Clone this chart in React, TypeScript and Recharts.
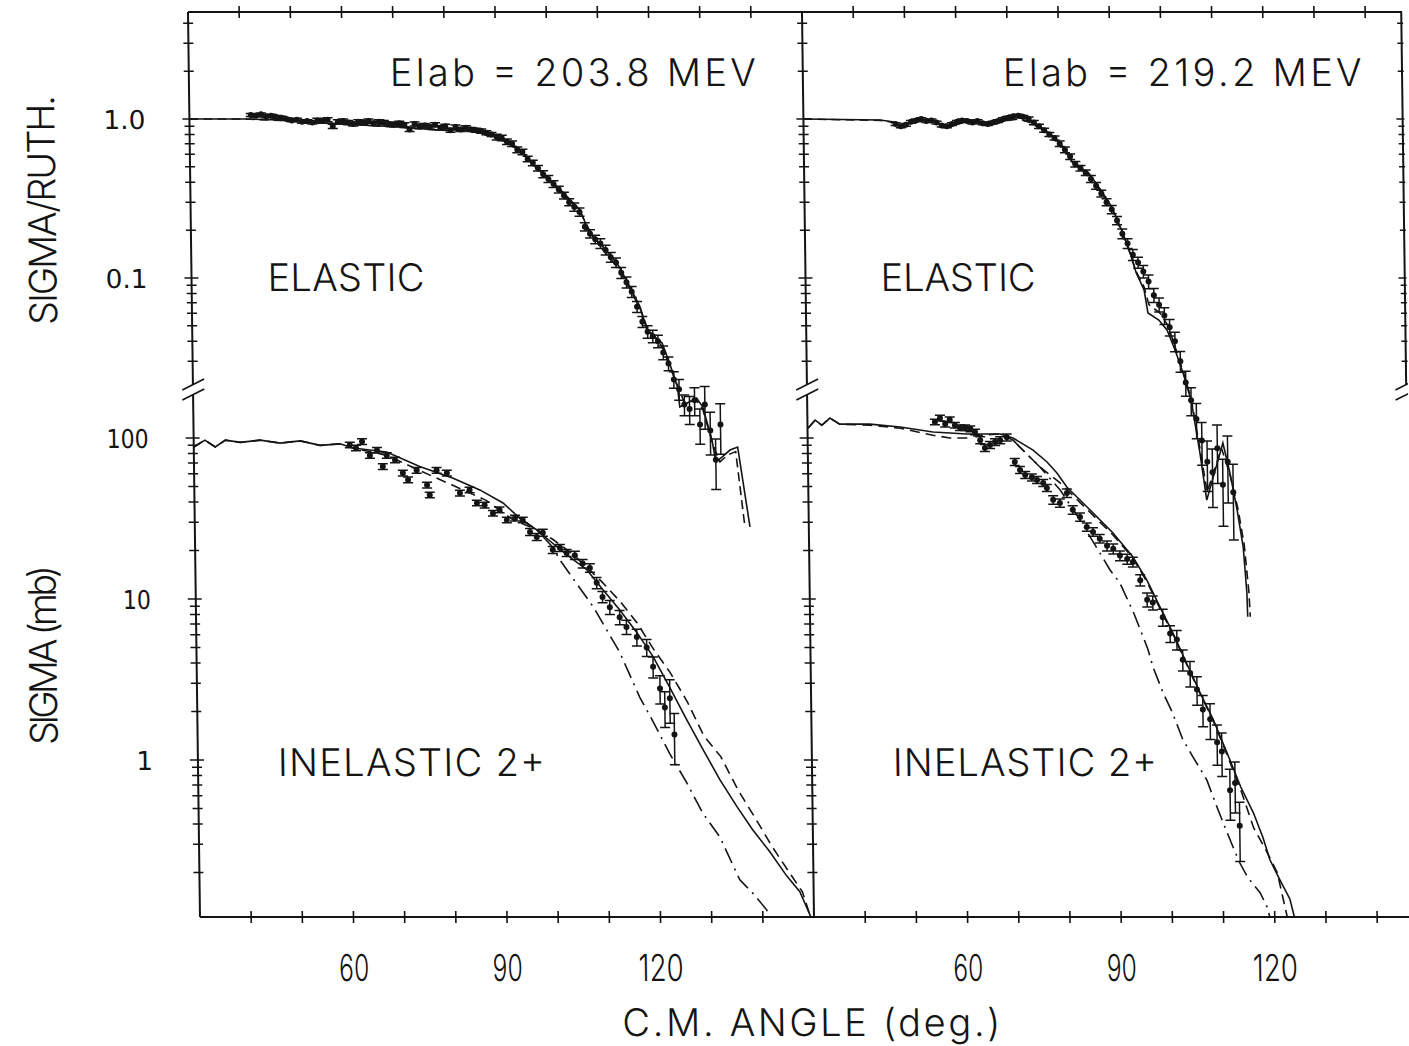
import React from 'react';
import { ComposedChart, Line, Scatter, ErrorBar, XAxis, YAxis, ReferenceLine } from 'recharts';

type P = [number, number];
type E = [number, number, number];

// ---------- Elab = 203.8 MEV ----------
// elastic, sigma/ruth : [angle, value, relative error]
const elastic203Data: E[] = [
  [42,1.06,0.02],[43,1.05,0.02],[44,1.07,0.02],[45,1.04,0.02],[46,1.05,0.02],[47,1.03,0.02],[48,1.02,0.02],
  [49,1.0,0.02],[50,0.98,0.02],[51,0.99,0.02],[52,0.96,0.02],[53,0.97,0.02],[54,0.95,0.02],[55,0.98,0.03],
  [56,0.97,0.03],[57,0.99,0.03],[58,0.9,0.03],[59,0.96,0.03],[60,0.97,0.03],[61,0.95,0.03],[62,0.93,0.03],
  [63,0.96,0.03],[64,0.95,0.03],[65,0.97,0.03],[66,0.94,0.03],[67,0.96,0.03],[68,0.95,0.03],[69,0.93,0.03],
  [70,0.92,0.03],[71,0.94,0.03],[72,0.92,0.03],[73,0.86,0.03],[74,0.93,0.03],[75,0.9,0.03],[76,0.91,0.03],
  [77,0.89,0.03],[78,0.92,0.03],[79,0.88,0.03],[80,0.9,0.03],[81,0.85,0.03],[82,0.89,0.03],[83,0.86,0.03],
  [84,0.88,0.03],[85,0.86,0.03],[86,0.85,0.03],[87,0.84,0.03],[88,0.82,0.03],[89,0.8,0.03],[90,0.77,0.04],
  [91,0.76,0.04],[92,0.72,0.04],[93,0.7,0.04],[94,0.64,0.04],[95,0.62,0.04],[96,0.56,0.04],[97,0.53,0.04],
  [98,0.49,0.04],[99,0.45,0.05],[100,0.42,0.05],[101,0.39,0.05],[102,0.36,0.05],[103,0.33,0.05],[104,0.3,0.05],
  [105,0.28,0.06],[106,0.26,0.06],[107,0.21,0.06],[108,0.19,0.06],[109,0.175,0.06],[110,0.165,0.07],
  [111,0.15,0.07],[112,0.135,0.07],[113,0.125,0.07],[114,0.108,0.08],[115,0.094,0.08],[116,0.082,0.08],
  [117,0.066,0.08],[118,0.053,0.08],[119,0.046,0.09],[120,0.043,0.09],[121,0.04,0.09],[122,0.034,0.1],
  [123,0.029,0.1],[124,0.023,0.12],[125,0.02,0.15],[126,0.016,0.15],[127,0.015,0.2],[128,0.017,0.2],
  [129,0.012,0.25],[130,0.016,0.3],[131,0.011,0.3],[132,0.0072,0.35],[133,0.012,0.35]
];
const elastic203Solid: P[] = [
  [30,1.0],[40.9,1.0],[47.7,0.986],[55.5,0.944],[63.3,0.917],[71.1,0.891],[78.9,0.853],[85.4,0.853],
  [88.7,0.793],[92.6,0.717],[95.1,0.611],[98.3,0.478],[102.8,0.347],[106.1,0.268],[107.9,0.192],[110.5,0.157],
  [113.2,0.124],[115.3,0.093],[117.6,0.0657],[118.9,0.0471],[121.8,0.039],[123.2,0.0292],[124.7,0.0206],
  [125.1,0.01545],[128.4,0.0176],[129.6,0.01545],[131.3,0.00957],[132.0,0.00697],[133.2,0.00748],
  [134.8,0.00828],[136.3,0.00865],[138.5,0.00272]
];
const elastic203Dashed: P[] = [
  [30,1.0],[40.9,1.0],[47.7,0.98],[55.5,0.95],[63.3,0.92],[71.1,0.885],[78.9,0.85],[85.4,0.84],[88.7,0.78],
  [92.6,0.7],[95.1,0.6],[98.3,0.47],[102.8,0.34],[106.1,0.26],[107.9,0.2],[110.5,0.15],[113.2,0.118],
  [115.3,0.09],[117.6,0.064],[118.9,0.049],[121.8,0.037],[123.2,0.028],[124.7,0.021],[126.0,0.0165],
  [128.4,0.017],[129.6,0.0148],[131.5,0.0089],[132.8,0.00697],[134.3,0.0077],[135.9,0.0081],[137.5,0.00275]
];
// inelastic 2+, sigma (mb)
const inelastic203Data: E[] = [
  [60.5,90.5,0.04],[61.7,86.7,0.04],[62.9,95,0.04],[64.4,78,0.04],[65.8,84,0.04],[66.9,66.5,0.04],
  [67.7,78,0.04],[69.3,73,0.04],[70.8,60.6,0.04],[71.8,55,0.04],[73.5,63,0.04],[75.5,51,0.04],[76.0,44.3,0.04],
  [77.4,63,0.04],[79.4,60.6,0.04],[81.9,45.5,0.04],[83.8,47.6,0.04],[85.2,39.5,0.04],[86.7,38.3,0.04],
  [88.3,34.1,0.04],[89.6,35.8,0.04],[91.0,31,0.04],[92.6,31.8,0.04],[94.1,31,0.04],[95.5,26.1,0.05],
  [96.8,24.3,0.05],[98.0,25.8,0.05],[99.9,20.2,0.05],[101.3,20.8,0.05],[102.6,19.3,0.05],[104.2,18.7,0.06],
  [105.7,16.6,0.06],[107.1,15.6,0.06],[108.4,12.6,0.08],[109.5,10.3,0.08],[110.9,8.9,0.1],[112.8,7.7,0.1],
  [114.1,6.7,0.1],[116.1,5.8,0.12],[118.0,5.0,0.12],[119.2,3.8,0.15],[120.5,2.78,0.2],[121.4,2.12,0.25],
  [122.4,2.42,0.3],[123.2,1.44,0.35]
];
const inelastic203Solid: P[] = [
  [30,88],[32.2,97],[34.2,88],[36.2,97],[39.1,94],[43.0,97],[46.9,93],[50.8,96],[54.7,90],[58.6,92],
  [61.1,86.7],[67.7,81.9],[74.1,66.5],[80.5,56.5],[85.8,47.6],[90.3,39.5],[93.5,31.8],[96.8,26.9],[99.9,22.2],
  [103.8,17.6],[106.5,15.2],[109.6,11.4],[112.8,8.57],[116.1,6.2],[119.2,4.4],[122.4,2.83],[125.6,1.79],
  [128.7,1.17],[131.9,0.76],[135.2,0.515],[138.2,0.37],[141.5,0.27],[144.8,0.19],[147.3,0.152],[149.5,0.104]
];
const inelastic203Dashed: P[] = [
  [30,88],[32.2,97],[34.2,88],[36.2,97],[39.1,94],[43.0,97],[46.9,93],[50.8,96],[54.7,90],[58.6,92],
  [61.1,86.7],[67.7,78],[74.0,63],[80.4,51],[87.0,41],[92.2,31],[96.8,27],[99.9,23.5],[103.8,19],[109.2,13],
  [113.0,9.6],[116.2,7.1],[119.3,4.9],[122.5,3.5],[125.8,2.3],[128.9,1.42],[132.2,1.05],[135.5,0.65],
  [138.7,0.44],[142.0,0.29],[145.3,0.2],[147.8,0.152],[149.4,0.104]
];
const inelastic203DashDot: P[] = [
  [93.5,31.8],[96.8,26.9],[99.9,21],[101.2,17.6],[107.7,8.9],[112.7,4.68],[116.5,2.46],[118.9,1.77],
  [122.2,1.1],[125.5,0.72],[128.5,0.47],[131.8,0.333],[135.6,0.18],[138.1,0.149],[140.8,0.117],[141.3,0.104]
];

// ---------- Elab = 219.2 MEV ----------
const elastic219Data: E[] = [
  [48,0.93,0.02],[49,0.9,0.02],[50,0.92,0.02],[51,0.96,0.02],[52,0.98,0.02],[53,1.0,0.02],[54,0.97,0.02],
  [55,0.98,0.02],[56,0.95,0.02],[57,0.91,0.02],[58,0.9,0.02],[59,0.93,0.02],[60,0.96,0.02],[61,0.98,0.02],
  [62,0.97,0.02],[63,0.95,0.02],[64,0.97,0.02],[65,0.94,0.02],[66,0.93,0.02],[67,0.95,0.02],[68,0.97,0.02],
  [69,1.0,0.02],[70,1.02,0.02],[71,1.04,0.02],[72,1.05,0.02],[73,1.03,0.02],[74,1.0,0.03],[75,0.95,0.03],
  [76,0.9,0.03],[77,0.85,0.03],[78,0.8,0.03],[79,0.76,0.03],[80,0.7,0.04],[81,0.64,0.04],[82,0.58,0.04],
  [83,0.52,0.04],[84,0.49,0.04],[85,0.46,0.04],[86,0.42,0.05],[87,0.38,0.05],[88,0.34,0.05],[89,0.3,0.05],
  [90,0.27,0.06],[91,0.23,0.06],[92,0.19,0.07],[93,0.165,0.07],[94,0.14,0.08],[95,0.125,0.08],[96,0.11,0.09],
  [97,0.095,0.1],[98,0.078,0.1],[99,0.068,0.1],[100,0.058,0.12],[101,0.049,0.12],[102,0.04,0.14],
  [103,0.03,0.15],[104,0.022,0.18],[105,0.017,0.2],[106,0.013,0.25],[107,0.0095,0.3],[108,0.007,0.35],
  [109,0.006,0.4],[110,0.0085,0.4],[111,0.005,0.45],[112,0.007,0.45],[113,0.0045,0.5]
];
const elastic219Solid: P[] = [
  [30,1.0],[45.0,0.986],[47.7,0.957],[49.2,0.891],[52.2,0.986],[55.3,0.986],[57.8,0.878],[62.1,0.971],
  [66.6,0.917],[69.7,0.986],[72.1,1.044],[74.2,0.986],[76.6,0.878],[78.9,0.77],[81.2,0.638],[82.5,0.529],
  [85.6,0.457],[87.9,0.358],[90.0,0.28],[91.6,0.21],[93.1,0.157],[94.6,0.108],[96.1,0.084],[96.8,0.0603],
  [98.9,0.0544],[100.5,0.047],[102.0,0.0353],[103.5,0.0253],[105.0,0.0171],[106.6,0.0079],[107.8,0.00401],
  [111.1,0.00917],[112.4,0.00594],[113.7,0.00348],[114.8,0.00203],[115.4,0.00104],[115.5,0.00074]
];
const elastic219Dashed: P[] = [
  [30,1.0],[45.0,0.98],[47.7,0.95],[49.2,0.9],[52.2,0.975],[55.3,0.98],[57.8,0.89],[62.1,0.965],[66.6,0.92],
  [69.7,0.975],[72.1,1.0],[74.2,0.95],[76.6,0.86],[78.9,0.76],[81.2,0.63],[82.5,0.53],[85.6,0.45],[87.9,0.35],
  [90.0,0.275],[91.6,0.205],[93.1,0.155],[94.6,0.11],[96.1,0.088],[97.0,0.068],[99.2,0.06],[100.7,0.05],
  [102.0,0.037],[103.5,0.026],[105.0,0.0175],[106.6,0.0085],[107.9,0.0045],[110.8,0.0085],[112.4,0.0058],
  [113.9,0.0035],[115.0,0.0021],[115.8,0.00105],[116.0,0.00074]
];
const inelastic219Data: E[] = [
  [54.9,125.7,0.04],[55.9,133,0.04],[56.9,122,0.04],[57.8,130,0.04],[58.8,120,0.04],[59.8,116,0.04],
  [60.8,116,0.04],[61.8,114,0.04],[62.7,109,0.04],[63.7,97,0.05],[64.6,86.7,0.05],[65.6,90.5,0.05],
  [66.6,94.4,0.05],[67.6,97,0.05],[68.9,101,0.05],[70.4,71,0.05],[71.4,63.3,0.05],[72.4,58.9,0.05],
  [73.7,57,0.05],[74.7,54.9,0.05],[75.9,52.6,0.05],[76.6,49,0.05],[77.8,41.3,0.06],[79.1,39.5,0.06],
  [80.5,45.5,0.06],[81.6,35.8,0.06],[83.0,32.3,0.06],[84.3,28,0.06],[85.5,26.1,0.06],[86.8,23.7,0.06],
  [88.2,21.4,0.07],[89.4,20.5,0.07],[90.7,18.6,0.07],[92.1,17.7,0.07],[93.2,17,0.07],[94.6,13.1,0.08],
  [95.9,9.9,0.1],[97.0,9.5,0.1],[98.9,7.7,0.12],[100.3,6.1,0.12],[101.6,5.6,0.14],[102.7,4.2,0.15],
  [104.1,3.47,0.18],[105.4,2.74,0.2],[106.5,2.06,0.22],[107.9,1.79,0.25],[109.2,1.29,0.28],[110.1,1.13,0.3],
  [111.6,0.65,0.35],[112.6,0.72,0.35],[113.4,0.39,0.4]
];
const inelastic219Solid: P[] = [
  [30.1,115],[31.5,129],[32.8,120],[34.4,133],[36.3,122],[42.2,122],[48.1,117],[54.5,109],[61.1,106],
  [67.6,106],[70.1,100],[74.0,84.2],[76.7,71],[78.6,60.6],[80.5,49.6],[84.4,37.3],[89.4,25.7],[93.2,18.3],
  [95.9,13.1],[98.4,8.9],[100.9,6.1],[103.5,3.95],[106.0,2.61],[108.5,1.78],[111.1,1.11],[113.7,0.68],
  [116.1,0.47],[117.9,0.33],[119.2,0.24],[121.1,0.18],[123.0,0.137],[123.9,0.104]
];
const inelastic219Dashed: P[] = [
  [30.1,115],[31.5,129],[32.8,120],[34.4,133],[36.3,122],[42.2,120],[48.1,115],[54.5,104],[57.8,100],
  [61.1,100],[62.3,103],[67.6,106],[70.1,97],[71.4,88],[75.3,66],[79.2,52.6],[84.4,36],[89.4,25],[93.2,18],
  [95.9,12.8],[98.4,8.7],[100.9,6.0],[103.5,3.9],[106.0,2.58],[108.5,1.75],[111.1,1.08],[113.7,0.65],
  [116.1,0.38],[118.7,0.266],[120.6,0.2],[121.7,0.137],[122.5,0.104]
];
const inelastic219DashDot: P[] = [
  [70.1,97],[71.4,88],[75.3,66],[79.2,47.5],[83.0,30.9],[86.8,19.3],[88.7,15.2],[90.6,12.6],[93.3,8.1],
  [95.9,4.9],[96.9,3.76],[98.7,2.65],[100.6,1.95],[102.5,1.34],[104.4,1.05],[107.1,0.75],[109.0,0.51],
  [110.9,0.355],[112.0,0.29],[113.3,0.23],[114.7,0.19],[115.8,0.17],[117.2,0.15],[118.5,0.123],[119.1,0.104]
];

// ---------- axes ----------
const angleTicks = [40, 50, 60, 70, 80, 90, 100, 110, 120, 130, 140];
const angleLabels = [60, 90, 120];
const ratioTicks = [0.03,0.04,0.05,0.06,0.07,0.08,0.09,0.1,0.2,0.3,0.4,0.5,0.6,0.7,0.8,0.9,1,2,3,4];
const ratioLabelValues = [0.1, 1];
const ratioLabelTexts = ['0.1', '1.0'];
const sigmaTicks = [0.2,0.3,0.4,0.5,0.6,0.7,0.8,0.9,1,2,3,4,5,6,7,8,9,10,20,30,40,50,60,70,80,90,100];
const sigmaLabelValues = [1, 10, 100];
const sigmaLabelTexts = ['1', '10', '100'];

const ratioDomain: [number, number] = [9.575e-6, 4.71];
const sigmaDomain: [number, number] = [0.1059, 44259];
const ratioSectionEnd = 0.02123;
const sigmaSectionStart = 184.9;

const INK = '#141414';
const plotFont = "Inter, 'Noto Sans', 'DejaVu Sans', sans-serif";
const roundFont = "'DejaVu Sans', 'Noto Sans', sans-serif";

const toLine = (pts: P[]) => pts.map(([x, v]) => ({ x, v }));
const toPoints = (pts: E[]) => pts.map(([x, v, e]) => ({ x, v, err: [v * e, v * e] }));

const Dot = (p: any) => <circle cx={p.cx} cy={p.cy} r={3} fill={INK} />;

const BottomTick = (props: any) => {
  const { x, y, payload } = props;
  const show = angleLabels.includes(payload.value);
  const s = String(payload.value);
  return (
    <g>
      <line x1={x} x2={x} y1={y - 6} y2={y + 6} stroke={INK} strokeWidth={1.6} />
      {show && (
        <text x={x} y={y + 64} textAnchor="middle" fontFamily={plotFont} fontWeight={300} fontSize={37}
          fill={INK} textLength={s.length * 15} lengthAdjust="spacingAndGlyphs">{s}</text>
      )}
    </g>
  );
};
const TopTick = (props: any) => {
  const { x, y } = props;
  return <line x1={x} x2={x} y1={y - 6} y2={y + 6} stroke={INK} strokeWidth={1.6} />;
};
const makeYTick = (values: number[], texts: string[], show: boolean) => (props: any) => {
  const { x, y, payload } = props;
  const i = values.indexOf(payload.value);
  const major = i >= 0;
  const s = major ? texts[i] : '';
  return (
    <g>
      <line x1={x - (major ? 7 : 5)} x2={x + (major ? 7 : 5)} y1={y} y2={y} stroke={INK} strokeWidth={1.5} />
      {show && major && (
        <text x={x - 44} y={y + 10} textAnchor="end" fontFamily={roundFont} fontSize={26} fill={INK}
          textLength={s.length > 1 ? s.length * 14 : undefined}
          lengthAdjust={s.length > 1 ? 'spacingAndGlyphs' : undefined}>{s}</text>
      )}
    </g>
  );
};

type PanelProps = {
  plotLeft: number; plotRight: number; xMax: number; showLabels: boolean; rightFrame: boolean;
  elData: E[]; elSolid: P[]; elDashed: P[];
  inData: E[]; inSolid: P[]; inDashed: P[]; inDashDot: P[];
};

function Panel(p: PanelProps) {
  const line = (id: string, pts: P[], axis: string, dash?: string) => (
    <Line key={id} data={toLine(pts)} dataKey="v" xAxisId="b" yAxisId={axis} type="linear" dot={false}
      stroke={INK} strokeWidth={1.6} strokeDasharray={dash} isAnimationActive={false} />
  );
  const frame = (x: number) => [
    <ReferenceLine key={`fe${x}`} xAxisId="b" yAxisId="el" ifOverflow="visible" stroke={INK} strokeWidth={2}
      segment={[{ x, y: ratioDomain[1] }, { x, y: ratioSectionEnd }]} />,
    <ReferenceLine key={`b1${x}`} xAxisId="b" yAxisId="in" ifOverflow="visible" stroke={INK} strokeWidth={1.6}
      segment={[{ x: x - 2.1, y: 198.7 }, { x: x + 2.2, y: 232.6 }]} />,
    <ReferenceLine key={`b2${x}`} xAxisId="b" yAxisId="in" ifOverflow="visible" stroke={INK} strokeWidth={1.6}
      segment={[{ x: x - 2.1, y: 172.2 }, { x: x + 2.2, y: 201.4 }]} />,
  ];
  const nLeftAxes = 2;
  const nRightAxes = p.rightFrame ? 1 : 0;
  return (
    <div style={{ position: 'absolute', left: 0, top: 0 }}>
      <ComposedChart width={1409} height={1046}
        margin={{ top: 11, right: p.plotRight - nRightAxes, bottom: 128, left: p.plotLeft - nLeftAxes }}>
        <XAxis xAxisId="b" dataKey="x" type="number" domain={[30, p.xMax]} allowDataOverflow ticks={angleTicks}
          interval={0} height={1} tickSize={0} tickMargin={0} tickLine={false} tick={<BottomTick />}
          axisLine={{ stroke: INK, strokeWidth: 2 }} />
        <XAxis xAxisId="t" orientation="top" dataKey="x" type="number" domain={[30, p.xMax]} allowDataOverflow
          ticks={angleTicks} interval={0} height={1} tickSize={0} tickMargin={0} tickLine={false}
          tick={<TopTick />} axisLine={{ stroke: INK, strokeWidth: 2 }} />
        <YAxis yAxisId="el" dataKey="v" type="number" scale="log" domain={ratioDomain} allowDataOverflow width={1}
          ticks={ratioTicks} interval={0} axisLine={false} tickLine={false} tickSize={0} tickMargin={0}
          tick={makeYTick(ratioLabelValues, ratioLabelTexts, p.showLabels)} />
        <YAxis yAxisId="in" dataKey="v" type="number" scale="log" domain={sigmaDomain} allowDataOverflow width={1}
          ticks={sigmaTicks} interval={0} axisLine={false} tickLine={false} tickSize={0} tickMargin={0}
          tick={makeYTick(sigmaLabelValues, sigmaLabelTexts, p.showLabels)} />
        {p.rightFrame && (
          <YAxis yAxisId="elR" orientation="right" dataKey="v" type="number" scale="log" domain={ratioDomain}
            allowDataOverflow width={1} ticks={ratioTicks} interval={0} axisLine={false} tickLine={false}
            tickSize={0} tickMargin={0} tick={makeYTick(ratioLabelValues, ratioLabelTexts, false)} />
        )}
        {frame(30)}
        <ReferenceLine xAxisId="b" yAxisId="in" ifOverflow="visible" stroke={INK} strokeWidth={2}
          segment={[{ x: 30, y: sigmaSectionStart }, { x: 30, y: sigmaDomain[0] }]} />
        {p.rightFrame && frame(p.xMax - 0.15)}
        {line('es', p.elSolid, 'el')}
        {line('ed', p.elDashed, 'el', '9 5')}
        {line('is', p.inSolid, 'in')}
        {line('id', p.inDashed, 'in', '10 6')}
        {line('idd', p.inDashDot, 'in', '16 6 2 6')}
        <Scatter data={toPoints(p.elData)} dataKey="v" xAxisId="b" yAxisId="el" shape={Dot} isAnimationActive={false}>
          <ErrorBar dataKey="err" direction="y" width={5} stroke={INK} strokeWidth={1.5} />
        </Scatter>
        <Scatter data={toPoints(p.inData)} dataKey="v" xAxisId="b" yAxisId="in" shape={Dot} isAnimationActive={false}>
          <ErrorBar dataKey="err" direction="y" width={5} stroke={INK} strokeWidth={1.5} />
        </Scatter>
      </ComposedChart>
    </div>
  );
}

const T = (props: any) => (
  <text fontFamily={plotFont} fontWeight={300} fontSize={38} fill={INK} lengthAdjust="spacing" {...props} />
);

export default function App() {
  return (
    <div style={{ position: 'absolute', left: 0, top: 0, width: 1409, height: 1046, overflow: 'hidden', background: '#fff' }}>
      <div style={{ position: 'absolute', left: 0, top: 0, width: 1409, height: 1046, transform: 'skewX(0.76deg)', transformOrigin: '0px 465px' }}>
        <Panel plotLeft={194} plotRight={601} xMax={150} showLabels rightFrame={false}
          elData={elastic203Data} elSolid={elastic203Solid} elDashed={elastic203Dashed}
          inData={inelastic203Data} inSolid={inelastic203Solid} inDashed={inelastic203Dashed} inDashDot={inelastic203DashDot} />
        <Panel plotLeft={808} plotRight={1} xMax={147.2} showLabels={false} rightFrame
          elData={elastic219Data} elSolid={elastic219Solid} elDashed={elastic219Dashed}
          inData={inelastic219Data} inSolid={inelastic219Solid} inDashed={inelastic219Dashed} inDashDot={inelastic219DashDot} />
        <svg width={1409} height={1046} style={{ position: 'absolute', left: 0, top: 0, pointerEvents: 'none' }}>
          <T x={395} y={86} textLength={366}>Elab = 203.8 MEV</T>
          <T x={1008} y={86} textLength={359}>Elab = 219.2 MEV</T>
          <T x={270} y={291} textLength={157}>ELASTIC</T>
          <T x={883} y={291} textLength={155}>ELASTIC</T>
          <T x={274} y={776} textLength={267}>INELASTIC 2+</T>
          <T x={889} y={776} textLength={264}>INELASTIC 2+</T>
          <T x={615} y={1036} textLength={378}>C.M. ANGLE (deg.)</T>
          <T transform="translate(59,210) rotate(-90)" x={-115} y={0} textLength={230}>SIGMA/RUTH.</T>
          <T transform="translate(54,655) rotate(-90)" x={-90} y={0} textLength={180}>SIGMA  (mb)</T>
        </svg>
      </div>
    </div>
  );
}
